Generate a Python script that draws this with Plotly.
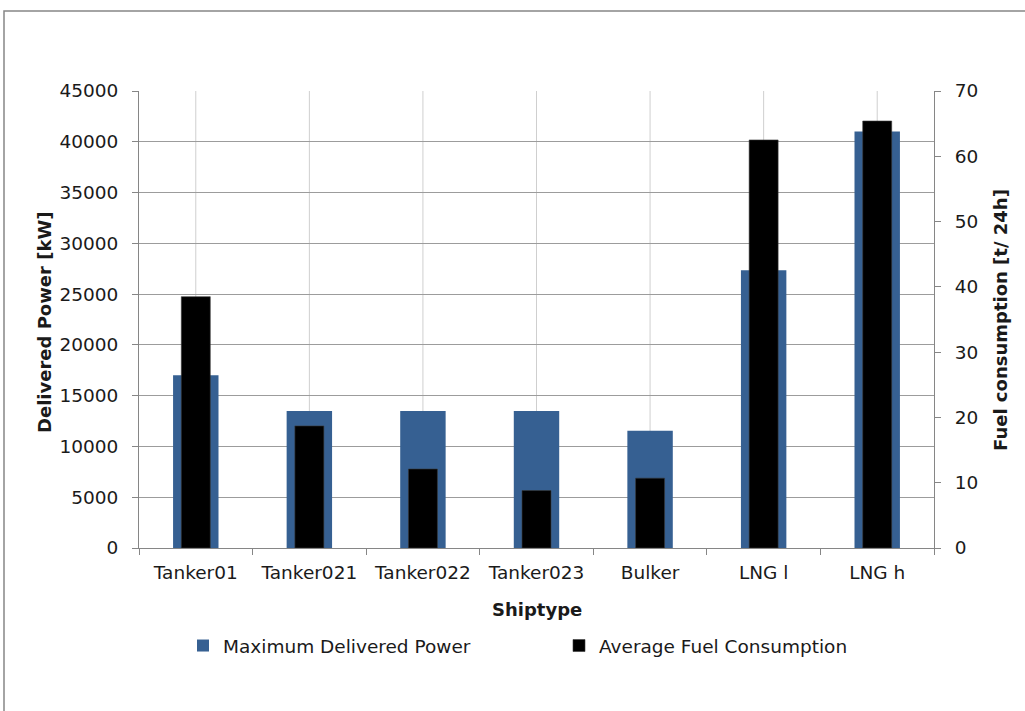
import plotly.graph_objects as go

# Ship categories and measured values
ship_types = ["Tanker01", "Tanker021", "Tanker022", "Tanker023", "Bulker", "LNG l", "LNG h"]
max_delivered_power_kw = [17000, 13500, 13500, 13500, 11550, 27350, 41000]
avg_fuel_consumption_t_per_day = [38.5, 18.7, 12.1, 8.8, 10.7, 62.5, 65.4]

power_ticks = list(range(0, 45001, 5000))
fuel_ticks = list(range(0, 71, 10))

# Figure / plot-area geometry (pixels)
FIG_W, FIG_H = 1025, 711
L, R, T, B = 139, 934, 91, 548
W, H = R - L, B - T


def px_x(px):
    return (px - L) / W


def px_y(py):
    return (B - py) / H


FONT = "DejaVu Sans"
TEXT = "#1a1a1a"
AXIS = "#868686"
GRID_H = "#9c9c9c"
GRID_V = "#cfcfcf"

fig = go.Figure()
fig.add_trace(go.Bar(
    x=ship_types, y=max_delivered_power_kw, name="Maximum Delivered Power",
    marker=dict(color="#366092", line=dict(width=0)),
    width=0.40, yaxis="y", legend="legend",
))
fig.add_trace(go.Bar(
    x=ship_types, y=avg_fuel_consumption_t_per_day, name="Average Fuel Consumption",
    marker=dict(color="#000000", line=dict(color="#3a3a3a", width=0.6)),
    width=0.255, yaxis="y2", legend="legend2",
))

# Vertical gridlines at the category centres
for s in ship_types:
    fig.add_shape(type="line", xref="x", yref="y domain", x0=s, x1=s, y0=0, y1=1,
                  line=dict(color=GRID_V, width=1), layer="below")

# Chart-area frame (top and left edges)
fx0, fx1 = px_x(4), px_x(FIG_W + 5)
fy0, fy1 = px_y(FIG_H + 5), px_y(11)
fig.add_shape(type="path", xref="paper", yref="paper",
              path=f"M {fx0} {fy0} L {fx0} {fy1} L {fx1} {fy1}",
              line=dict(color=AXIS, width=1.5))

tick_font = dict(family=FONT, size=18.5, color=TEXT)
title_font = dict(family=FONT, size=18, color=TEXT, weight="bold")

fig.update_layout(
    width=FIG_W, height=FIG_H,
    margin=dict(l=L, r=FIG_W - R, t=T, b=FIG_H - B, pad=0),
    paper_bgcolor="white", plot_bgcolor="white",
    barmode="overlay",
    font=dict(family=FONT, size=18, color=TEXT),
    xaxis=dict(
        type="category", categoryorder="array", categoryarray=ship_types,
        range=[-0.5, len(ship_types) - 0.5],
        tickson="boundaries", ticks="outside", ticklen=6, tickcolor=AXIS,
        showline=True, linecolor=AXIS, linewidth=1, showgrid=False,
        tickfont=tick_font, ticklabelstandoff=8,
    ),
    yaxis=dict(
        range=[0, 45000], tickmode="array", tickvals=power_ticks, tickformat="d",
        ticks="outside", ticklen=6, tickcolor=AXIS,
        showline=True, linecolor=AXIS, linewidth=1,
        showgrid=True, gridcolor=GRID_H, gridwidth=1, zeroline=False,
        tickfont=tick_font, ticklabelstandoff=10,
    ),
    yaxis2=dict(
        overlaying="y", side="right", range=[0, 70],
        tickmode="array", tickvals=fuel_ticks, tickformat="d",
        ticks="outside", ticklen=6, tickcolor=AXIS,
        showline=True, linecolor=AXIS, linewidth=1,
        showgrid=False, zeroline=False,
        tickfont=tick_font, ticklabelstandoff=10,
    ),
    legend=dict(
        orientation="h", x=px_x(183), y=px_y(646), xanchor="left", yanchor="middle",
        font=dict(family=FONT, size=18.5, color=TEXT), bgcolor="rgba(0,0,0,0)",
    ),
    legend2=dict(
        orientation="h", x=px_x(559), y=px_y(646), xanchor="left", yanchor="middle",
        font=dict(family=FONT, size=18.5, color=TEXT), bgcolor="rgba(0,0,0,0)",
    ),
    showlegend=True,
)

# Axis titles
fig.add_annotation(text="Delivered Power [kW]", xref="paper", yref="paper",
                   x=px_x(44), y=px_y(323), textangle=-90, showarrow=False,
                   xanchor="center", yanchor="middle", font=title_font)
fig.add_annotation(text="Fuel consumption [t/ 24h]", xref="paper", yref="paper",
                   x=px_x(1000), y=px_y(320), textangle=-90, showarrow=False,
                   xanchor="center", yanchor="middle", font=title_font)
fig.add_annotation(text="Shiptype", xref="paper", yref="paper",
                   x=px_x(537), y=px_y(609), showarrow=False,
                   xanchor="center", yanchor="middle", font=title_font)

fig.write_html("out.html")
